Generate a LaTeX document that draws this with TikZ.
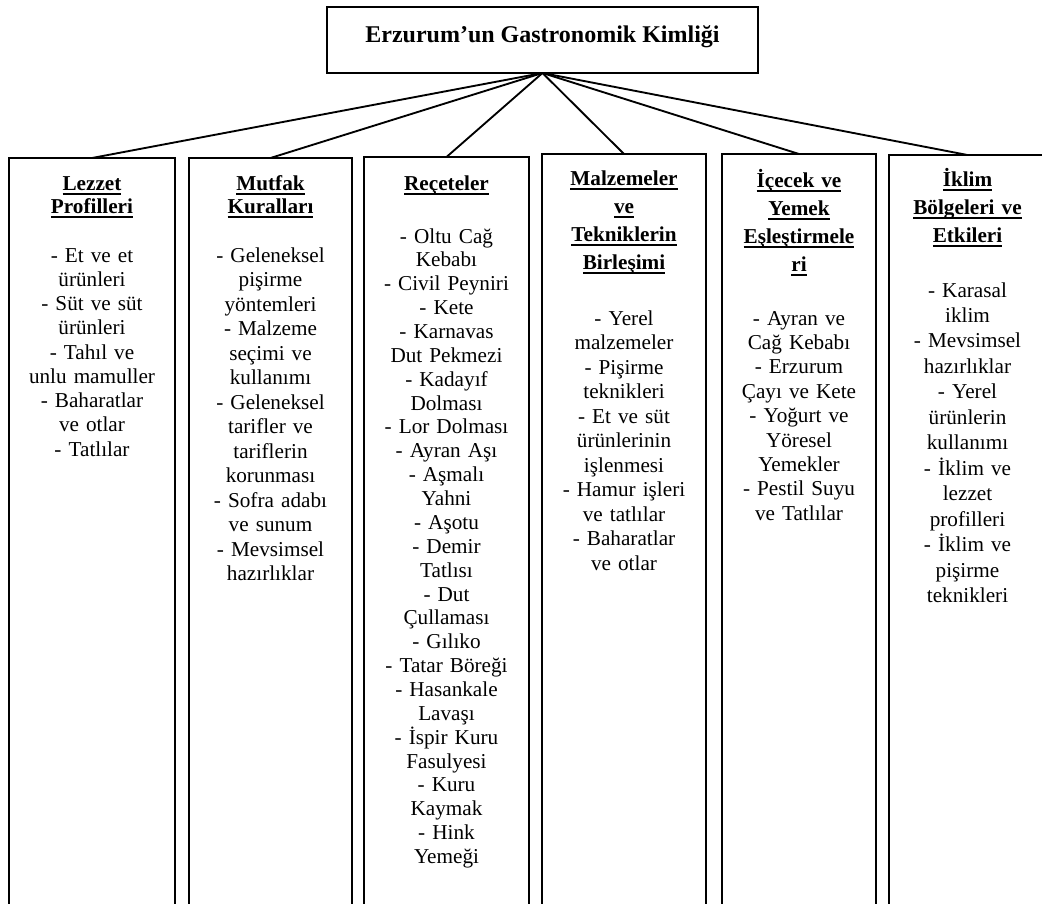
\documentclass[tikz,border=0pt]{standalone}
\usepackage{fontspec}
\setmainfont{Liberation Serif}
\usepackage{tikz}
\usetikzlibrary{positioning}
% underline at a fixed depth, as the reference draws it
\newcommand{\ulbar}[1]{\leavevmode\setbox0\hbox{#1}\rlap{\rule[-3.4pt]{\wd0}{1pt}}\box0}

\begin{document}
\begin{tikzpicture}[
  top/.style={draw,line width=1.5pt,minimum width=323.25pt,minimum height=49.5pt,
              inner sep=0pt,outer sep=0pt,font=\fontsize{18}{21}\selectfont\bfseries,
              text height=10pt,text depth=7pt},
  col/.style={draw,line width=1.4pt,minimum height=580pt,inner sep=0pt,outer sep=0pt},
  head/.style={anchor=base,align=center,text width=112pt,inner sep=0pt,
               font=\fontsize{15.9}{#1}\selectfont\bfseries},
  head/.default=17.25pt,
  body/.style={anchor=base,align=center,text width=112pt,inner sep=0pt,
               font=\fontsize{15.9}{#1}\selectfont},
  link/.style={line width=1.4pt}]
\useasboundingbox (0,0) rectangle (781.5pt,-677.25pt);
\clip (0,0) rectangle (781.5pt,-677.25pt);

\node[top,anchor=north west] (kimlik) at (245.25pt,-5.25pt) {Erzurum’un Gastronomik Kimliği};

% columns
\node[col,minimum width=124.5pt,anchor=north west] (lezzet) at (6.75pt,-118.5pt) {};
\node[col,minimum width=122.25pt,right=10.5pt of lezzet] (mutfak) {};
\node[col,minimum width=123.75pt,right=9pt of mutfak,yshift=0.75pt] (recete) {};
\node[col,minimum width=123pt,right=9.75pt of recete,yshift=2.25pt] (malzeme) {};
\node[col,minimum width=115.5pt,right=12pt of malzeme] (icecek) {};
\node[col,minimum width=117.75pt,right=9.75pt of icecek,yshift=-0.75pt] (iklim) {};

\draw[link] (kimlik.south) -- (lezzet.north); \draw[link] (kimlik.south) -- (mutfak.north);
\draw[link] (kimlik.south) -- (recete.north); \draw[link] (kimlik.south) -- (malzeme.north);
\draw[link] (kimlik.south) -- (icecek.north); \draw[link] (kimlik.south) -- (iklim.north);

% texts
\node[head] (lezzet-h) at ([yshift=-24pt]lezzet.north) {\ulbar{Lezzet}\\\ulbar{Profilleri}};
\node[body=18.2pt] (lezzet-b) at ([yshift=-78pt]lezzet.north)
  {- Et ve et\\ürünleri\\- Süt ve süt\\ürünleri\\- Tahıl ve\\unlu mamuller\\- Baharatlar\\ve otlar\\- Tatlılar};

\node[head] (mutfak-h) at ([yshift=-24pt]mutfak.north) {\ulbar{Mutfak}\\\ulbar{Kuralları}};
\node[body=18.4pt] (mutfak-b) at ([yshift=-78pt]mutfak.north)
  {- Geleneksel\\pişirme\\yöntemleri\\- Malzeme\\seçimi ve\\kullanımı\\- Geleneksel\\tarifler ve\\tariflerin\\korunması\\- Sofra adabı\\ve sunum\\- Mevsimsel\\hazırlıklar};

\node[head] (recete-h) at ([yshift=-24.75pt]recete.north) {\ulbar{Reçeteler}};
\node[body=17.9pt] (recete-b) at ([yshift=-64.5pt]recete.north)
  {- Oltu Cağ\\Kebabı\\- Civil Peyniri\\- Kete\\- Karnavas\\Dut Pekmezi\\- Kadayıf\\Dolması\\- Lor Dolması\\- Ayran Aşı\\- Aşmalı\\Yahni\\- Aşotu\\- Demir\\Tatlısı\\- Dut\\Çullaması\\- Gılıko\\- Tatar Böreği\\- Hasankale\\Lavaşı\\- İspir Kuru\\Fasulyesi\\- Kuru\\Kaymak\\- Hink\\Yemeği};

\node[head=21pt] (malzeme-h) at ([yshift=-23.25pt]malzeme.north)
  {\ulbar{Malzemeler}\\\ulbar{ve}\\\ulbar{Tekniklerin}\\\ulbar{Birleşimi}};
\node[body=18.4pt] (malzeme-b) at ([yshift=-128.25pt]malzeme.north)
  {- Yerel\\malzemeler\\- Pişirme\\teknikleri\\- Et ve süt\\ürünlerinin\\işlenmesi\\- Hamur işleri\\ve tatlılar\\- Baharatlar\\ve otlar};

\node[head=21pt] (icecek-h) at ([yshift=-24.75pt]icecek.north)
  {\ulbar{İçecek ve}\\\ulbar{Yemek}\\\ulbar{Eşleştirmele}\\\ulbar{ri}};
\node[body=18.3pt] (icecek-b) at ([yshift=-128.25pt]icecek.north)
  {- Ayran ve\\Cağ Kebabı\\- Erzurum\\Çayı ve Kete\\- Yoğurt ve\\Yöresel\\Yemekler\\- Pestil Suyu\\ve Tatlılar};

\node[head=21pt] (iklim-h) at ([yshift=-23.25pt]iklim.north)
  {\ulbar{İklim}\\\ulbar{Bölgeleri ve}\\\ulbar{Etkileri}};
\node[body=19.1pt] (iklim-b) at ([yshift=-106.5pt]iklim.north)
  {- Karasal\\iklim\\- Mevsimsel\\hazırlıklar\\- Yerel\\ürünlerin\\kullanımı\\- İklim ve\\lezzet\\profilleri\\- İklim ve\\pişirme\\teknikleri};
\end{tikzpicture}
\end{document}
